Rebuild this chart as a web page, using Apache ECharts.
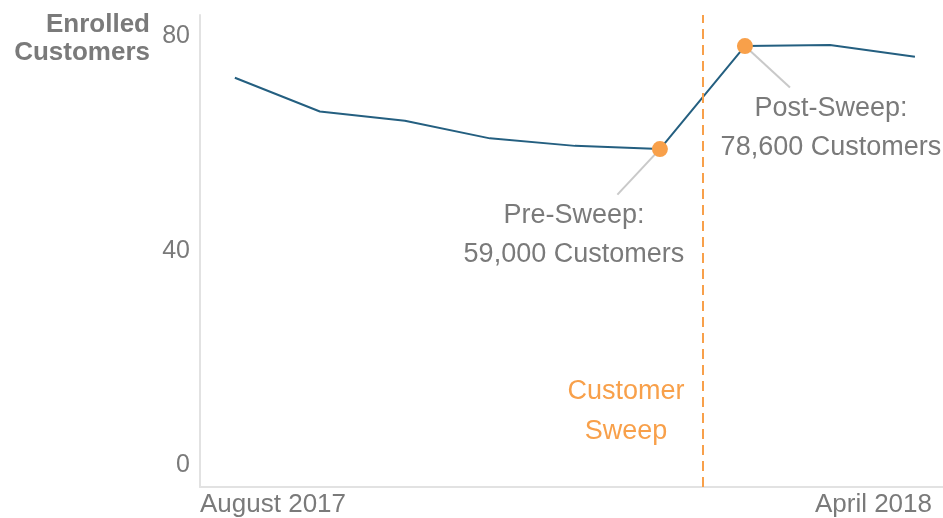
<!DOCTYPE html>
<html><head><meta charset="utf-8">
<script src="https://cdn.jsdelivr.net/npm/echarts@6/dist/echarts.min.js"></script>
<style>html,body{margin:0;padding:0;background:#fff}#c{width:943px;height:518px}</style>
</head><body><div id="c"></div>
<script>
// ---- data ----
const months = ['August 2017','September 2017','October 2017','November 2017','December 2017','January 2018','February 2018','March 2018','April 2018'];
const enrolled = [72.3, 66.0, 64.3, 61.0, 59.6, 59.0, 78.2, 78.4, 76.2];
const yTicks = [0, 40, 80];
const xTickLabels = ['August 2017', 'April 2018'];
const highlightIdx = [5, 6];
const highlightText = [['Pre-Sweep:', '59,000 Customers'], ['Post-Sweep:', '78,600 Customers']];
const connectorEnds = [[4.5, 50.5], [6.53, 70.5]];
const sweepAt = 5.5;
const yTitle = ['Enrolled', 'Customers'];
const sweepLabel = ['Customer', 'Sweep'];

// ---- styles ----
const GRAY = '#7a7a7a';
const ORANGE = '#f8a04a';
const LINE = '#245f80';
const FONT = 'Liberation Sans';
const xMin = -0.41, xMax = 8.33;

const chart = echarts.init(document.getElementById('c'), null, {renderer: 'canvas'});

const lineData = months.map((m, i) => [i, enrolled[i]]);
const hlData = highlightIdx.map((idx, k) => ({
  value: [idx, enrolled[idx]],
  label: {
    formatter: highlightText[k].join('\n'),
    offset: k === 0 ? [-86, 86] : [86, 82]
  }
}));

chart.setOption({
  animation: false,
  backgroundColor: '#fff',
  grid: {left: 200, right: 0, top: 15, bottom: 31, containLabel: false},
  xAxis: {
    type: 'value', min: xMin, max: xMax,
    splitLine: {show: false},
    axisTick: {show: false},
    axisLine: {show: true, onZero: false, lineStyle: {color: '#e2e2e2', width: 2}},
    axisLabel: {
      customValues: [xMin, xMax],
      alignMinLabel: 'left', alignMaxLabel: 'right',
      margin: 5, verticalAlign: 'top',
      formatter: v => v === xMin ? '{l|' + xTickLabels[0] + '}' : '{r|' + xTickLabels[1] + '}',
      rich: {
        l: {fontSize: 26, color: GRAY, fontFamily: FONT},
        r: {fontSize: 26, color: GRAY, fontFamily: FONT, padding: [0, 11, 0, 0]}
      }
    }
  },
  yAxis: {
    type: 'value', min: -4, max: 84,
    splitLine: {show: false},
    axisTick: {show: false},
    axisLine: {show: true, onZero: false, lineStyle: {color: '#e2e2e2', width: 2}},
    axisLabel: {customValues: yTicks, fontSize: 25, color: GRAY, fontFamily: FONT, margin: 10}
  },
  graphic: [
    {type: 'text', x: 150, y: 11, z: 10,
     style: {text: yTitle.join('\n'), align: 'right', verticalAlign: 'top', fill: GRAY,
             font: 'bold 26px ' + FONT, lineHeight: 28}},
    {type: 'text', x: 626, y: 372, z: 10,
     style: {text: sweepLabel.join('\n'), align: 'center', verticalAlign: 'top', fill: ORANGE,
             font: '27px ' + FONT, lineHeight: 40}}
  ],
  series: [
    {
      type: 'line', data: lineData, z: 2,
      symbol: 'none', smooth: false,
      lineStyle: {color: LINE, width: 2},
      markLine: {
        silent: true, symbol: 'none', animation: false,
        label: {show: false},
        data: [
          {xAxis: sweepAt, lineStyle: {color: ORANGE, width: 2, type: [10, 6]}},
          [{coord: [highlightIdx[0], enrolled[highlightIdx[0]]], lineStyle: {color: '#c9c9c9', width: 2, type: 'solid'}},
           {coord: connectorEnds[0]}],
          [{coord: [highlightIdx[1], enrolled[highlightIdx[1]]], lineStyle: {color: '#c9c9c9', width: 2, type: 'solid'}},
           {coord: connectorEnds[1]}]
        ]
      }
    },
    {
      type: 'scatter', data: hlData, z: 5,
      symbol: 'circle', symbolSize: 16,
      itemStyle: {color: ORANGE, opacity: 1},
      label: {show: true, position: 'inside', fontSize: 27, lineHeight: 39, color: GRAY,
              textBorderWidth: 0, textBorderColor: 'transparent',
              fontFamily: FONT, align: 'center', verticalAlign: 'middle'}
    }
  ]
});
</script>
</body></html>
